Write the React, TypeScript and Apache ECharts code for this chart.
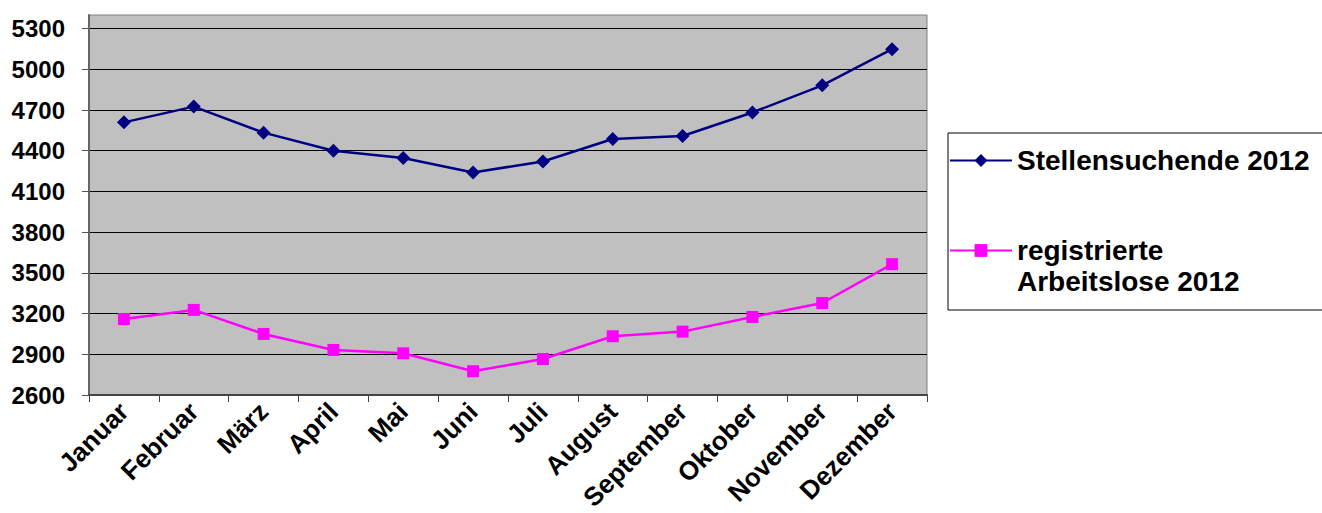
import React, { useEffect, useRef } from "react";
import * as echarts from "echarts";

const months = ["Januar", "Februar", "März", "April", "Mai", "Juni", "Juli", "August", "September", "Oktober", "November", "Dezember"];
const stellensuchende = [4609, 4725, 4533, 4400, 4346, 4240, 4321, 4486, 4508, 4682, 4882, 5148];
const arbeitslose = [3160, 3227, 3050, 2932, 2907, 2775, 2865, 3033, 3067, 3175, 3278, 3564];
const seriesNames = ["Stellensuchende 2012", "registrierte Arbeitslose 2012"];

const FONT = "'Liberation Sans', Arial, sans-serif";

export default function App() {
  const ref = useRef<HTMLDivElement>(null);
  useEffect(() => {
    if (!ref.current) return;
    const chart = echarts.init(ref.current, null, { renderer: "svg" });
    chart.setOption({
      animation: false,
      grid: {
        left: 89,
        right: 395,
        top: 15,
        bottom: 118,
        containLabel: false,
        outerBoundsMode: "none",
        show: true,
        backgroundColor: "#C0C0C0",
        borderColor: "#808080",
        borderWidth: 1,
      },
      legend: {
        orient: "vertical",
        left: 948,
        top: 133,
        padding: [12, 40, 13, 1],
        itemGap: 28,
        itemWidth: 62,
        itemHeight: 16,
        borderColor: "#000",
        borderWidth: 1,
        backgroundColor: "#fff",
        data: seriesNames,
        formatter: (name: string) =>
          name === seriesNames[1] ? "\nregistrierte\nArbeitslose 2012" : name,
        textStyle: {
          fontFamily: FONT,
          fontWeight: "bold",
          fontSize: 28,
          lineHeight: 31,
          color: "#000",
        },
      },
      xAxis: {
        type: "category",
        data: months,
        boundaryGap: true,
        axisLine: { show: true, lineStyle: { color: "#444", width: 2 } },
        axisTick: { show: true, length: 7, lineStyle: { color: "#444", width: 1 } },
        axisLabel: {
          interval: 0,
          rotate: 45,
          margin: 12,
          fontFamily: FONT,
          fontWeight: "bold",
          fontSize: 26,
          color: "#000",
        },
        splitLine: { show: false },
      },
      yAxis: {
        type: "value",
        min: 2600,
        max: 5400,
        interval: 300,
        axisLine: { show: true, lineStyle: { color: "#666", width: 2 } },
        axisTick: { show: true, length: 7, lineStyle: { color: "#555", width: 1 } },
        axisLabel: {
          margin: 24,
          showMaxLabel: false,
          formatter: (v: number) => String(v),
          fontFamily: FONT,
          fontWeight: "bold",
          fontSize: 24,
          color: "#000",
        },
        splitLine: {
          show: true,
          showMinLine: false,
          showMaxLine: false,
          lineStyle: { color: "#000", width: 1 },
        },
      },
      series: [
        {
          name: seriesNames[0],
          type: "line",
          data: stellensuchende,
          symbol: "diamond",
          symbolSize: 14,
          color: "#000080",
          lineStyle: { color: "#000080", width: 2.5 },
          itemStyle: { color: "#000080" },
        },
        {
          name: seriesNames[1],
          type: "line",
          data: arbeitslose,
          symbol: "rect",
          symbolSize: 12,
          color: "#FF00FF",
          lineStyle: { color: "#FF00FF", width: 2.5 },
          itemStyle: { color: "#FF00FF" },
        },
      ],
    });
    return () => chart.dispose();
  }, []);
  return (
    <div
      ref={ref}
      style={{ position: "fixed", left: 0, top: 0, width: 1322, height: 513, background: "#fff" }}
    />
  );
}
